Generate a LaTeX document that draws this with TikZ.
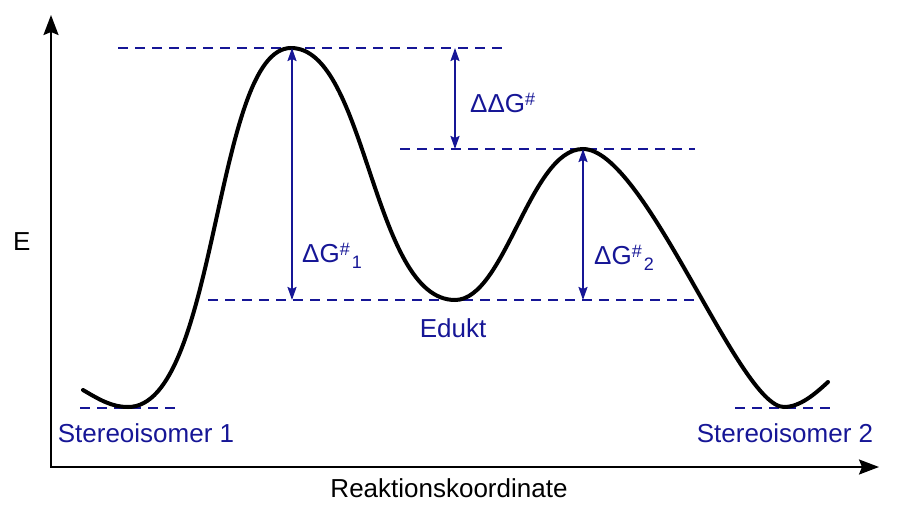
\documentclass[tikz,border=0pt]{standalone}
\usepackage{fontspec}
\setmainfont{Liberation Sans}
\usetikzlibrary{arrows.meta}
\definecolor{navy}{RGB}{22,22,150}
\newcommand{\hashsup}{\raisebox{6.5pt}{\fontsize{18}{18}\selectfont\#}}
\newcommand{\lowsub}[1]{\raisebox{-6pt}{\fontsize{18}{18}\selectfont\kern2pt#1}}
\begin{document}
\begin{tikzpicture}[x=1pt,y=-1pt,
  lbl/.style={font=\fontsize{26}{30}\selectfont, text=navy, inner sep=0pt},
  blk/.style={font=\fontsize{26}{30}\selectfont, text=black, inner sep=0pt},
  guide/.style={navy, line width=2pt, dash pattern=on 10pt off 7pt},
  dim/.style={navy, line width=1.8pt, {Stealth[length=13pt,width=9pt,inset=2pt]}-{Stealth[length=13pt,width=9pt,inset=2pt]}},
  axis/.style={line width=2pt, {Stealth[length=20pt,width=15pt,inset=3pt]}-{Stealth[length=20pt,width=15pt,inset=3pt]}},
  curve/.style={line width=4pt, line cap=round}]
\useasboundingbox (0,0) rectangle (906,512);
% axes
\coordinate (ytip) at (51,15);
\coordinate (orig) at (51,467);
\coordinate (xtip) at (879,467);
\draw[axis] (ytip) -- (orig) -- (xtip);
% level coordinates
\coordinate (peak1) at (291,48);
\coordinate (peak2) at (583,149);
\coordinate (edukt) at (455,300);
\coordinate (a1top) at (292,48);
\coordinate (a1bot) at (292,300);
\coordinate (a2top) at (583,149);
\coordinate (a2bot) at (583,300);
\coordinate (a3top) at (455,48);
\coordinate (a3bot) at (455,149);
% dashed guide lines
\coordinate (g1a) at (118,48);  \coordinate (g1b) at (505,48);
\coordinate (g2a) at (400,149); \coordinate (g2b) at (695,149);
\coordinate (g3a) at (208,300); \coordinate (g3b) at (695,300);
\coordinate (g4a) at (80,408);  \coordinate (g4b) at (178,408);
\coordinate (g5a) at (735,408); \coordinate (g5b) at (834,408);
\draw[guide] (g1a) -- (g1b);
\draw[guide] (g2a) -- (g2b);
\draw[guide] (g3a) -- (g3b);
\draw[guide] (g4a) -- (g4b);
\draw[guide] (g5a) -- (g5b);
% energy curve
\draw[curve] (83,390) .. controls (100,400) and (112,407) .. (128,407)
  .. controls (218,407) and (214,48) .. (peak1)
  .. controls (367,48) and (372,300) .. (edukt)
  .. controls (505,300) and (530,149) .. (peak2)
  .. controls (645,149) and (739,407) .. (784,407)
  .. controls (800,407) and (815,394) .. (828,382);
% dimension arrows
\draw[dim] (a1top) -- (a1bot);
\draw[dim] (a2top) -- (a2bot);
\draw[dim] (a3top) -- (a3bot);
% labels
\node[lbl, anchor=base west] (ddg) at (470,112) {ΔΔG\hashsup};
\node[lbl, anchor=base west] (dg1) at (302,262) {ΔG\hashsup\lowsub{1}};
\node[lbl, anchor=base west] (dg2) at (594,264) {ΔG\hashsup\lowsub{2}};
\node[lbl, anchor=base] (ed) at (453,337) {Edukt};
\node[lbl, anchor=base] (s1) at (146,442) {Stereoisomer 1};
\node[lbl, anchor=base] (s2) at (785,442) {Stereoisomer 2};
\node[blk, anchor=base] (xl) at (449,497) {Reaktionskoordinate};
\node[blk, anchor=base west] (yl) at (13,250) {E};
\end{tikzpicture}
\end{document}
